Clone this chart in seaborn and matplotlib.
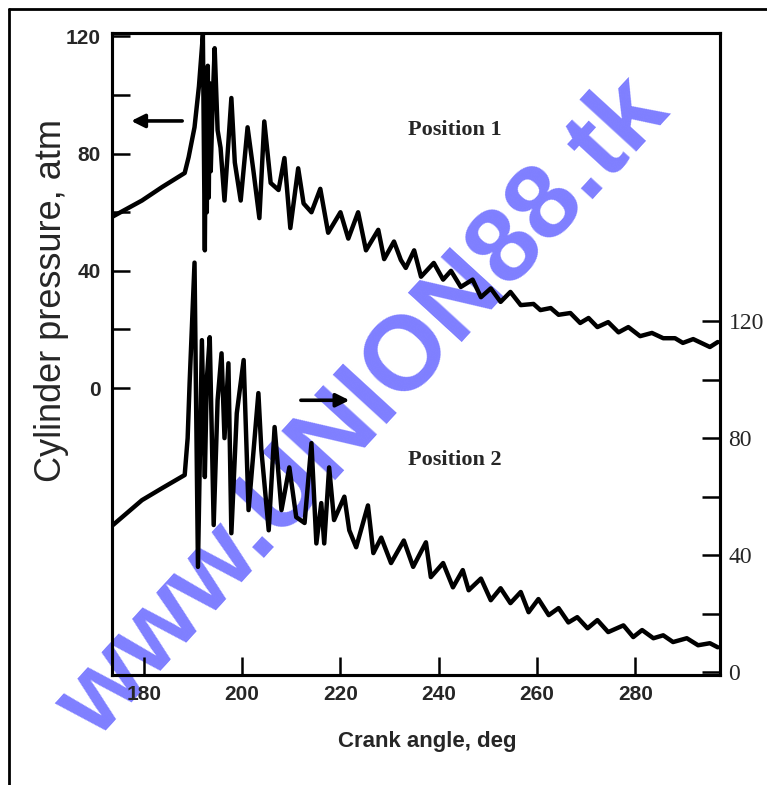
import numpy as np
import pandas as pd
import matplotlib
matplotlib.use("Agg")
import matplotlib.pyplot as plt
from matplotlib.lines import Line2D
import seaborn as sns

# ---- data ----
pos1_angle = [173.5, 179.6, 183.7, 188.3, 189.1, 190.3, 191.2,
              192.0, 192.4, 192.6, 192.8, 193.0, 193.2, 193.4, 193.6, 194.0, 194.4,
              195.0, 195.6, 196.4, 197.8, 198.5, 199.7,
              201.1, 202.3, 203.5, 204.5, 205.8, 207.4, 208.6, 209.8,
              211.4, 212.5, 214.1, 215.9, 217.5,
              220.0, 221.6, 223.6, 225.2, 227.7, 228.9,
              230.9, 232.3, 233.3, 235.0, 236.4, 239.0,
              240.9, 242.5, 244.5, 246.9, 248.6,
              250.6, 252.6, 254.6, 256.7, 259.3,
              260.7, 262.8, 264.4, 266.8, 268.8,
              270.5, 272.3, 274.5, 276.6, 278.6,
              281.0, 283.4, 285.7, 288.1, 289.7,
              291.8, 295.2, 296.8]
pos1_pressure = [58.4, 64.0, 68.6, 73.4, 78.8, 89, 103,
                 120.5, 47, 95, 60, 110, 65, 104, 74, 98, 116,
                 88, 82, 64, 99, 77, 64,
                 89, 74, 58, 91, 70, 67.6, 78.5, 54.6,
                 75, 63, 60, 68, 53,
                 60, 51, 60, 47, 54, 44,
                 50, 43.7, 41, 47, 38, 42.7,
                 37, 40, 34.5, 37, 31,
                 34, 29.4, 32.8, 28.3, 28.7,
                 26.6, 27.3, 25, 25.6, 22.2,
                 23.9, 20.8, 22.5, 19, 20.8,
                 17.7, 18.8, 17, 17, 15.4,
                 16.7, 14, 15.7]

pos2_angle = [173.7, 179.6, 183.7, 188.3, 188.9, 189.3, 190.3, 191.0, 191.8, 192.4,
              192.8, 193.4, 194.2, 195.0, 195.8, 196.4, 197.2, 197.8, 198.9, 200.3,
              201.3, 203.3, 203.9, 205.4, 206.6, 208.0, 209.6, 211.0, 212.7, 214.1,
              215.1, 216.1, 216.7, 217.7, 218.7, 220.8, 221.8, 223.2, 225.6, 226.7,
              228.3, 230.3, 232.9, 234.8, 237.4, 238.4, 240.9, 242.9, 244.9, 246.1,
              248.6, 250.6, 252.6, 254.6, 256.7, 258.3, 260.3, 262.4, 264.4, 266.4,
              268.2, 270.3, 272.3, 274.5, 277.6, 279.6, 281.4, 283.7, 285.7, 287.7,
              290.5, 292.8, 295.2, 296.8]
pos2_pressure = [50.3, 58.8, 62.9, 67.4, 80, 98.8, 140, 36, 113.5, 66.7,
                 100, 114.5, 50.3, 93, 109, 80, 105.6, 47.5, 88.5, 106.7,
                 55.4, 95.4, 76, 48.5, 83.8, 55.4, 70, 53, 51, 78.3,
                 44, 57.8, 44, 70, 52, 60, 48.5, 42.7, 57, 40.7,
                 46, 37.3, 45, 36, 44.4, 32.5, 37.3, 29, 34.9, 28,
                 32, 24.6, 28.7, 23.6, 27.4, 20.5, 25, 19.5, 21.9, 17,
                 18.8, 15, 17.8, 13.7, 16, 12, 14.4, 11.6, 12.6, 10.3,
                 11.6, 9.2, 9.9, 8.5]

x_ticks = [180, 200, 220, 240, 260, 280]
left_ticks = [0, 40, 80, 120]
right_ticks = [0, 40, 80, 120]
minor_ticks = [20, 60, 100]

# ---- figure ----
sns.set_style("ticks")
plt.rcParams['font.family'] = ['Liberation Sans', 'DejaVu Sans']

fig = plt.figure(figsize=(7.67, 7.85), dpi=100)
ax = fig.add_axes([0.146, 0.140, 0.793, 0.818])
ax.patch.set_visible(False)
ax2 = ax.twinx()

sns.lineplot(x=pos1_angle, y=pos1_pressure, ax=ax, color='black',
             linewidth=3.2, estimator=None, sort=False)
sns.lineplot(x=pos2_angle, y=pos2_pressure, ax=ax2, color='black',
             linewidth=3.2, estimator=None, sort=False)

ax.set_xlim(173.5, 297.3)
ax.set_ylim(-98, 121.2)
ax2.set_ylim(-1.0, 218.5)

ax.set_xticks(x_ticks)
ax.set_xticklabels([str(t) for t in x_ticks], fontsize=15, fontweight='bold')
ax.set_yticks(left_ticks)
ax.set_yticklabels([str(t) for t in left_ticks], fontsize=15, fontweight='bold')
ax.set_yticks(minor_ticks, minor=True)
ax2.set_yticks(right_ticks)
ax2.set_yticklabels([str(t) for t in right_ticks], fontsize=17,
                    family='Liberation Serif')
ax2.set_yticks(minor_ticks, minor=True)

for a in (ax, ax2):
    a.tick_params(which='both', direction='in', length=13, width=1.8, color='black')
    a.set_xlabel('')
    a.set_ylabel('')
    for s in a.spines.values():
        s.set_linewidth(2.2)
        s.set_color('black')
ax.tick_params(axis='x', pad=7)
ax.tick_params(axis='y', pad=8)
ax2.tick_params(axis='y', pad=6)

# annotations
ax.text(0.564, 0.849, "Position 1", transform=ax.transAxes, ha='center', va='center',
        fontsize=16, fontweight='bold', family='Liberation Serif')
ax.text(0.564, 0.335, "Position 2", transform=ax.transAxes, ha='center', va='center',
        fontsize=16, fontweight='bold', family='Liberation Serif')
ax.annotate("", xy=(0.027, 0.863), xytext=(0.12, 0.863), xycoords='axes fraction',
            arrowprops=dict(arrowstyle='-|>', color='black', lw=2.6, mutation_scale=20))
ax.annotate("", xy=(0.395, 0.428), xytext=(0.306, 0.428), xycoords='axes fraction',
            arrowprops=dict(arrowstyle='-|>', color='black', lw=2.6, mutation_scale=20))

fig.text(427 / 767, 1 - 742 / 785, "Crank angle, deg", ha='center', va='center',
         fontsize=16, fontweight='bold')
fig.text(52 / 767, 1 - 300 / 785, "Cylinder pressure, atm", rotation=90,
         ha='center', va='center', fontsize=26)

# page border lines
fig.add_artist(Line2D([0.012, 0.012], [0.0, 0.989], transform=fig.transFigure,
                      color='black', lw=2))
fig.add_artist(Line2D([0.012, 1.0], [0.989, 0.989], transform=fig.transFigure,
                      color='black', lw=2))

# watermark
fig.text(364 / 767, 1 - 409 / 785, "www.UNION88.tk", rotation=47.5,
         rotation_mode='anchor', ha='center', va='center', fontsize=76,
         fontweight='bold', color='#7f7fff', zorder=-1)

fig.savefig("out.png", dpi=100)
